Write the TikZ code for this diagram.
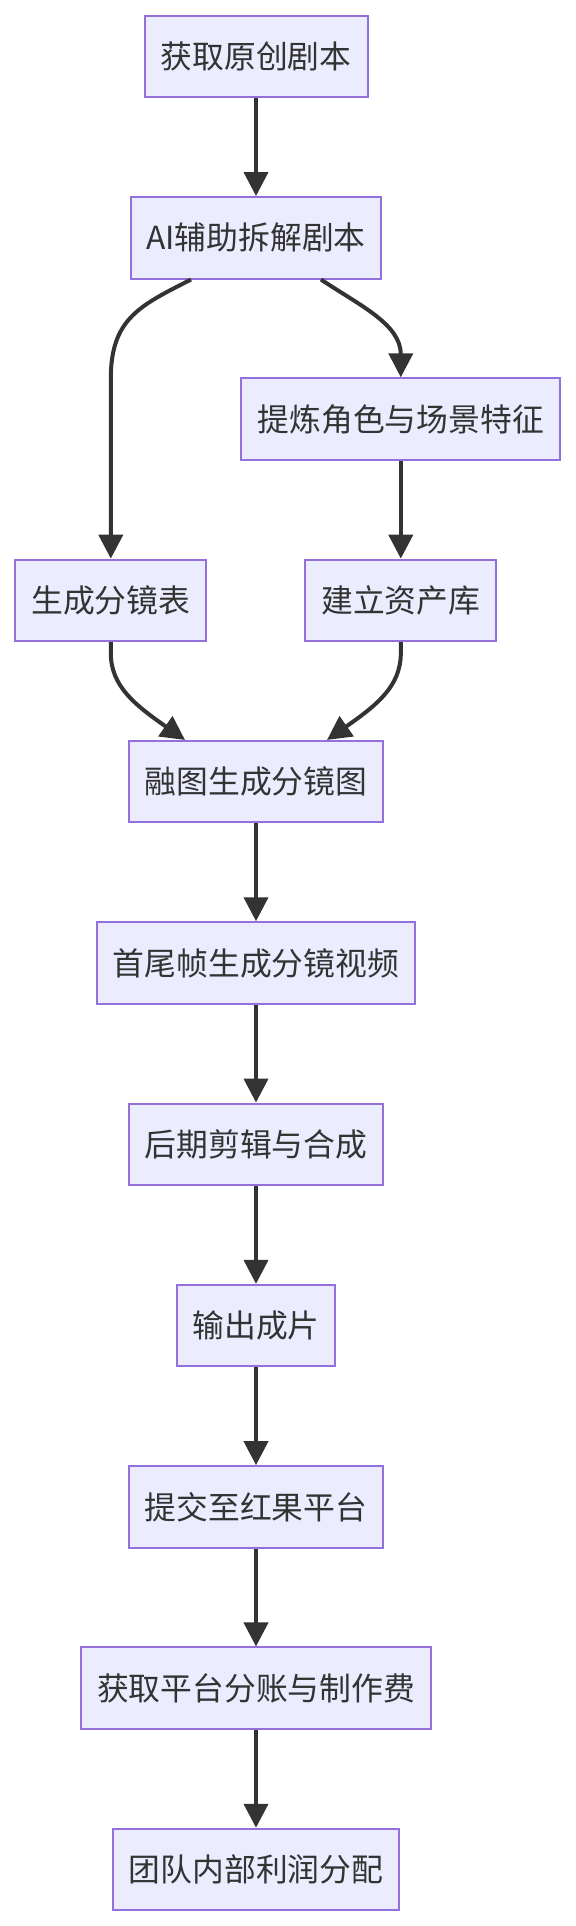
\documentclass[tikz,border=0pt]{standalone}
\usepackage{fontspec}
\setmainfont{Noto Sans CJK SC}
\usetikzlibrary{arrows.meta,calc}
\definecolor{boxfill}{HTML}{ECECFF}
\definecolor{boxline}{HTML}{9370DB}
\definecolor{ink}{HTML}{333333}
\begin{document}
\begin{tikzpicture}[x=0.5pt,y=-0.5pt,
  box/.style={draw=boxline,fill=boxfill,line width=1pt,minimum height=40.75pt,
    inner sep=0pt,text=ink,font=\fontsize{15.9pt}{18pt}\selectfont},
  conn/.style={draw=ink,line width=2pt,-{Triangle[length=12pt,width=12pt]}}]
\useasboundingbox (0,0) rectangle (576,1926);
\node[box,minimum width=111.5pt]  (n0)  at (256,56.5)    {获取原创剧本};
\node[box,minimum width=125.25pt] (n1)  at (256,237.8)   {AI辅助拆解剧本};
\node[box,minimum width=159.4pt]  (n2)  at (400.8,419.1) {提炼角色与场景特征};
\node[box,minimum width=95.4pt]   (n3a) at (110.8,600.4) {生成分镜表};
\node[box,minimum width=95.5pt]   (n3b) at (400.8,600.4) {建立资产库};
\node[box,minimum width=127.3pt]  (n4)  at (256,781.7)   {融图生成分镜图};
\node[box,minimum width=159.4pt]  (n5)  at (256,963)     {首尾帧生成分镜视频};
\node[box,minimum width=127.3pt]  (n6)  at (256,1144.3)  {后期剪辑与合成};
\node[box,minimum width=79.4pt]   (n7)  at (256,1325.6)  {输出成片};
\node[box,minimum width=127.3pt]  (n8)  at (256,1506.9)  {提交至红果平台};
\node[box,minimum width=175pt]    (n9)  at (256,1688.2)  {获取平台分账与制作费};
\node[box,minimum width=143pt]    (n10) at (256,1869.5)  {团队内部利润分配};

\draw[conn] (n0) -- (n1);
\draw[conn] ($(n1.south)+(-65,0)$) .. controls ($(n1.south)+(-116,26)$) and ($(n3a.north)+(0,-240)$) .. ($(n3a.north)+(0,-180)$) -- (n3a.north);
\draw[conn] ($(n1.south)+(65,0)$) .. controls ($(n1.south)+(104,26)$) and ($(n2.north)+(0,-53)$) .. (n2.north);
\draw[conn] (n2) -- (n3b);
\draw[conn] (n3a.south) -- ($(n3a.south)+(0,11)$) .. controls ($(n3a.south)+(0,44)$) and ($(n4.north)+(-121,-35)$) .. ($(n4.north)+(-71,0)$);
\draw[conn] (n3b.south) -- ($(n3b.south)+(0,11)$) .. controls ($(n3b.south)+(0,44)$) and ($(n4.north)+(121,-35)$) .. ($(n4.north)+(71,0)$);
\draw[conn] (n4) -- (n5);
\draw[conn] (n5) -- (n6);
\draw[conn] (n6) -- (n7);
\draw[conn] (n7) -- (n8);
\draw[conn] (n8) -- (n9);
\draw[conn] (n9) -- (n10);
\end{tikzpicture}
\end{document}
